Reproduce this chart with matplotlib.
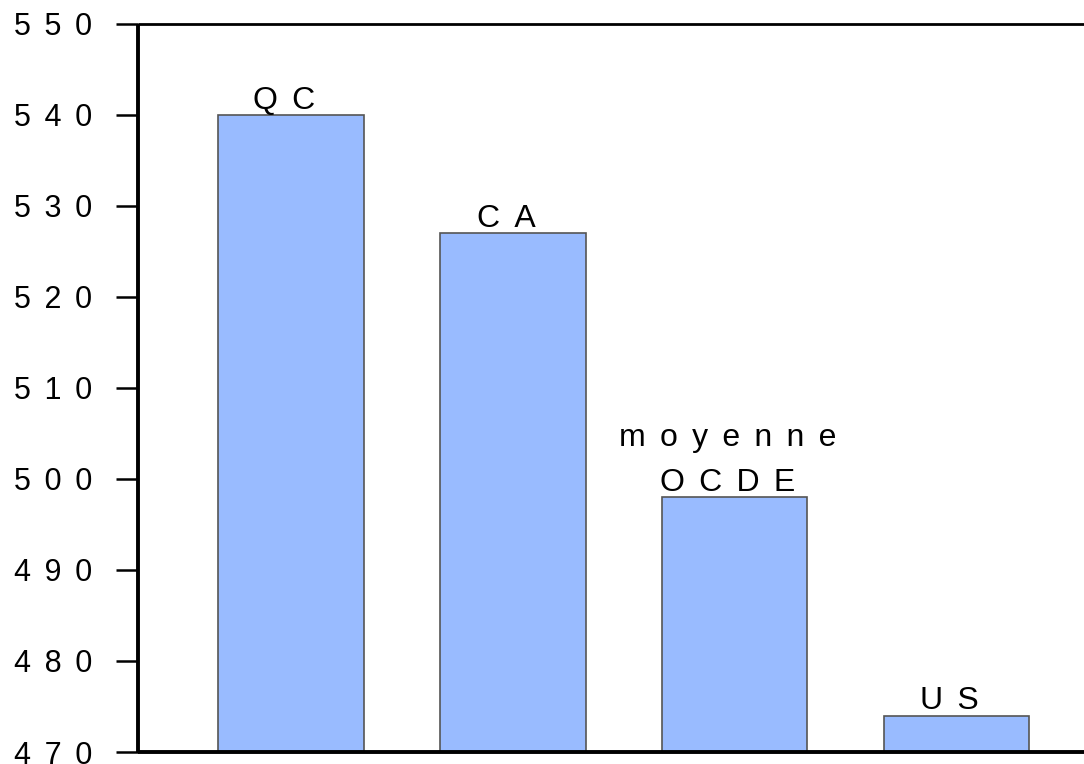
import matplotlib.pyplot as plt

plt.rcParams['font.family'] = ['Liberation Sans', 'DejaVu Sans']

# data
categories = ["QC", "CA", "moyenne\nOCDE", "US"]
scores = [540, 527, 498, 474]
yticks = [470, 480, 490, 500, 510, 520, 530, 540, 550]

# the original spreads letters out with wide gaps
GAP = " \u2006"


def spaced(s):
    return "\n".join(GAP.join(line) for line in str(s).split("\n"))


fig = plt.figure(figsize=(10.84, 7.64), dpi=100)
ax = fig.add_axes([0.1273, 0.0157, 0.88, 0.953])

x = range(len(categories))
ax.bar(x, [s - 470 for s in scores], bottom=470, width=0.655,
       color="#99bbff", edgecolor="#555555", linewidth=1.2)

for xi, s, lab in zip(x, scores, categories):
    ax.annotate(spaced(lab), (xi, s), xytext=(-5, 4.5), textcoords="offset points",
                ha="center", va="baseline", fontsize=23, linespacing=1.66)

ax.set_xlim(-0.69, 3.61)
ax.set_ylim(470, 550)
ax.set_yticks(yticks)
ax.set_yticklabels([spaced(t) for t in yticks], fontsize=22)
ax.set_xticks([])

ax.tick_params(axis="y", length=16, width=1.8, pad=17, direction="out")
ax.spines["right"].set_visible(False)
ax.spines["left"].set_linewidth(2.8)
ax.spines["bottom"].set_linewidth(2.8)
ax.spines["top"].set_linewidth(2.0)
for s in ax.spines.values():
    s.set_capstyle("butt")

fig.savefig("out.png", dpi=100)
